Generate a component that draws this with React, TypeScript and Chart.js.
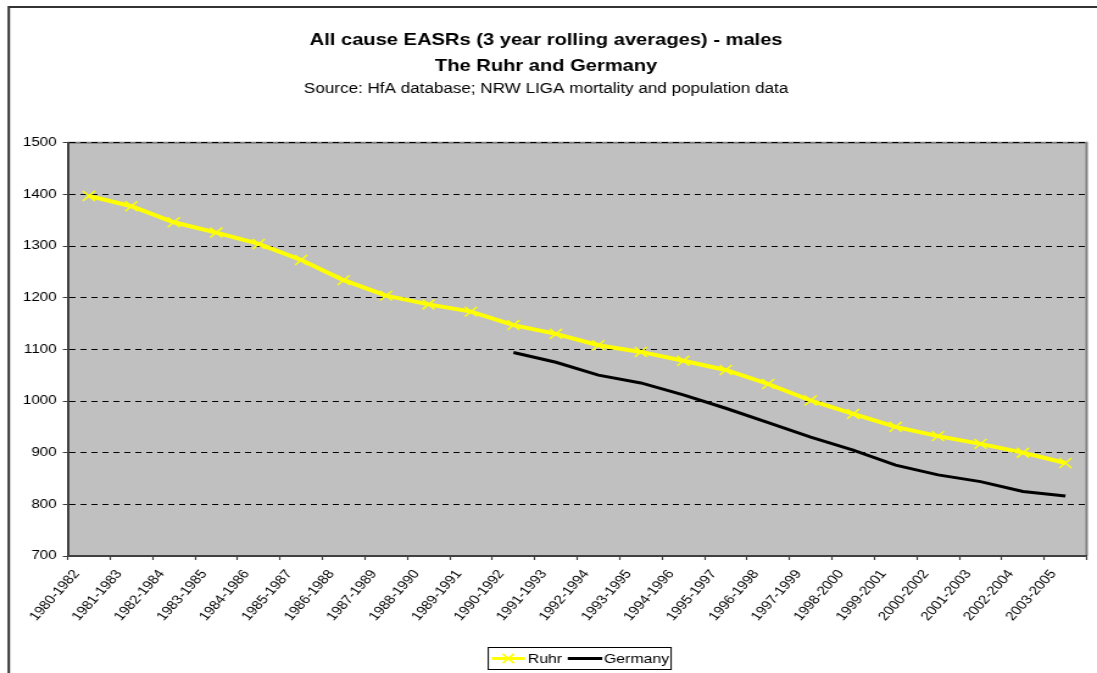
import React, { useEffect, useRef } from 'react';
import { Chart, registerables } from 'chart.js';

Chart.register(...registerables);

// ---- data ----
const categories = [
  '1980-1982', '1981-1983', '1982-1984', '1983-1985', '1984-1986', '1985-1987',
  '1986-1988', '1987-1989', '1988-1990', '1989-1991', '1990-1992', '1991-1993',
  '1992-1994', '1993-1995', '1994-1996', '1995-1997', '1996-1998', '1997-1999',
  '1998-2000', '1999-2001', '2000-2002', '2001-2003', '2002-2004', '2003-2005',
];
const ruhrValues = [
  1397, 1377, 1346, 1326, 1304, 1273, 1234, 1204, 1187, 1173, 1147, 1130,
  1108, 1095, 1078, 1060, 1033, 1001, 975, 950, 932, 917, 900, 880,
];
const germanyValues: (number | null)[] = [
  null, null, null, null, null, null, null, null, null, null, 1094, 1075,
  1050, 1035, 1012, 986, 958, 930, 905, 876, 857, 844, 825, 816,
];
const seriesNames = ['Ruhr', 'Germany'];
const yMin = 700;
const yMax = 1500;
const yStep = 100;
const titleLines = ['All cause EASRs (3 year rolling averages) - males', 'The Ruhr and Germany'];
const subtitleText = 'Source: HfA database; NRW LIGA mortality and population data';

// ---- layout (internal canvas units; canvas is stretched horizontally) ----
const VIEW_W = 1097;
const VIEW_H = 673;
const SX = 1.21889;
const CW = Math.round(VIEW_W / SX); // 900
const CH = VIEW_H;
const FONT = "'Liberation Sans', Arial, sans-serif";

const decorPlugin = {
  id: 'decor',
  beforeDraw(chart: any) {
    const { ctx, chartArea: a } = chart;
    ctx.save();
    ctx.fillStyle = '#ffffff';
    ctx.fillRect(0, 0, chart.width, chart.height);
    ctx.fillStyle = '#C0C0C0';
    ctx.fillRect(a.left, a.top, a.right - a.left, a.bottom - a.top);
    // outer frame (left + top)
    ctx.strokeStyle = '#333333';
    ctx.lineWidth = 2;
    ctx.beginPath();
    ctx.moveTo(7.2, chart.height + 2);
    ctx.lineTo(7.2, 7);
    ctx.lineTo(chart.width + 2, 7);
    ctx.stroke();
    // plot top/right border
    ctx.strokeStyle = '#808080';
    ctx.lineWidth = 2;
    ctx.beginPath();
    ctx.moveTo(a.left, a.top);
    ctx.lineTo(a.right, a.top);
    ctx.lineTo(a.right, a.bottom);
    ctx.stroke();
    ctx.restore();
  },
  afterDraw(chart: any) {
    const { ctx } = chart;
    const ds = chart.data.datasets;
    const boxL = 400.1;
    const boxR = 551.1;
    const boxT = 647;
    const boxB = 670;
    const cy = (boxT + boxB) / 2;
    ctx.save();
    ctx.fillStyle = '#ffffff';
    ctx.fillRect(boxL, boxT, boxR - boxL, boxB - boxT);
    ctx.strokeStyle = '#000000';
    ctx.lineWidth = 1;
    ctx.strokeRect(boxL + 0.5, boxT + 0.5, boxR - boxL - 1, boxB - boxT - 1);
    // Ruhr sample
    ctx.strokeStyle = ds[0].borderColor;
    ctx.lineWidth = 3;
    ctx.beginPath();
    ctx.moveTo(403.4, cy);
    ctx.lineTo(430.7, cy);
    ctx.stroke();
    const mx = 417.0;
    const r = 4.6;
    ctx.lineWidth = 1.5;
    ctx.beginPath();
    ctx.moveTo(mx - r, cy - r);
    ctx.lineTo(mx + r, cy + r);
    ctx.moveTo(mx - r, cy + r);
    ctx.lineTo(mx + r, cy - r);
    ctx.stroke();
    ctx.fillStyle = '#000000';
    ctx.font = `13px ${FONT}`;
    ctx.textBaseline = 'middle';
    ctx.textAlign = 'left';
    ctx.fillText(ds[0].label, 433.0, cy + 0.5);
    // Germany sample
    ctx.strokeStyle = ds[1].borderColor;
    ctx.lineWidth = 3;
    ctx.beginPath();
    ctx.moveTo(465.8, cy);
    ctx.lineTo(494.1, cy);
    ctx.stroke();
    ctx.fillText(ds[1].label, 495.5, cy + 0.5);
    ctx.restore();
  },
};

export default function App() {
  const ref = useRef<HTMLCanvasElement | null>(null);

  useEffect(() => {
    if (!ref.current) return;
    const chart = new Chart(ref.current, {
      type: 'line',
      data: {
        labels: categories,
        datasets: [
          {
            label: seriesNames[0],
            data: ruhrValues,
            borderColor: '#FFFF00',
            backgroundColor: '#FFFF00',
            borderWidth: 4,
            pointStyle: 'crossRot',
            pointRadius: 7,
            pointBorderColor: '#FFFF00',
            pointBorderWidth: 1.5,
            tension: 0,
            order: 1,
          },
          {
            label: seriesNames[1],
            data: germanyValues,
            borderColor: '#000000',
            backgroundColor: '#000000',
            borderWidth: 3,
            pointRadius: 0,
            tension: 0,
            spanGaps: false,
            order: 2,
          },
        ],
      },
      options: {
        responsive: false,
        animation: false,
        devicePixelRatio: 1,
        layout: { padding: { left: 0, right: 3.9, top: 0, bottom: 0 } },
        plugins: {
          legend: { display: false },
          tooltip: { enabled: false },
          title: {
            display: true,
            text: titleLines,
            color: '#000000',
            font: { family: FONT, size: 16.5, weight: 'bold', lineHeight: 26 / 16.5 },
            padding: { top: 27, bottom: 0 },
          },
          subtitle: {
            display: true,
            text: subtitleText,
            color: '#000000',
            font: { family: FONT, size: 14, weight: 'normal', lineHeight: 18 / 14 },
            padding: { top: 1, bottom: 44.7 },
          },
        },
        scales: {
          x: {
            type: 'category',
            offset: true,
            grid: {
              display: true,
              offset: true,
              drawOnChartArea: false,
              drawTicks: true,
              tickLength: 4,
              tickColor: '#404040',
              tickWidth: 1.2,
            },
            border: { display: true, color: '#404040', width: 2 },
            ticks: {
              autoSkip: false,
              minRotation: 53,
              maxRotation: 53,
              padding: 7,
              labelOffset: -10,
              color: '#000000',
              font: { family: FONT, size: 12.5 },
            },
            afterFit: (scale: any) => {
              scale.height = 117;
            },
          },
          y: {
            min: yMin,
            max: yMax,
            grid: {
              color: '#000000',
              lineWidth: 1,
              drawTicks: true,
              tickLength: 4,
              tickColor: '#404040',
              tickWidth: 1,
            },
            border: { display: true, color: '#404040', width: 2, dash: [5, 4] },
            ticks: {
              stepSize: yStep,
              padding: 5,
              color: '#000000',
              font: { family: FONT, size: 12.5 },
              callback: (v: any) => String(v),
            },
            afterFit: (scale: any) => {
              scale.width = 55.5;
            },
          },
        },
      },
      plugins: [decorPlugin],
    });
    return () => chart.destroy();
  }, []);

  return (
    <div style={{ position: 'absolute', left: 0, top: 0, width: VIEW_W, height: VIEW_H, overflow: 'hidden', background: '#fff' }}>
      <canvas
        ref={ref}
        width={CW}
        height={CH}
        style={{ display: 'block', width: `${VIEW_W}px`, height: `${VIEW_H}px` }}
      />
    </div>
  );
}
